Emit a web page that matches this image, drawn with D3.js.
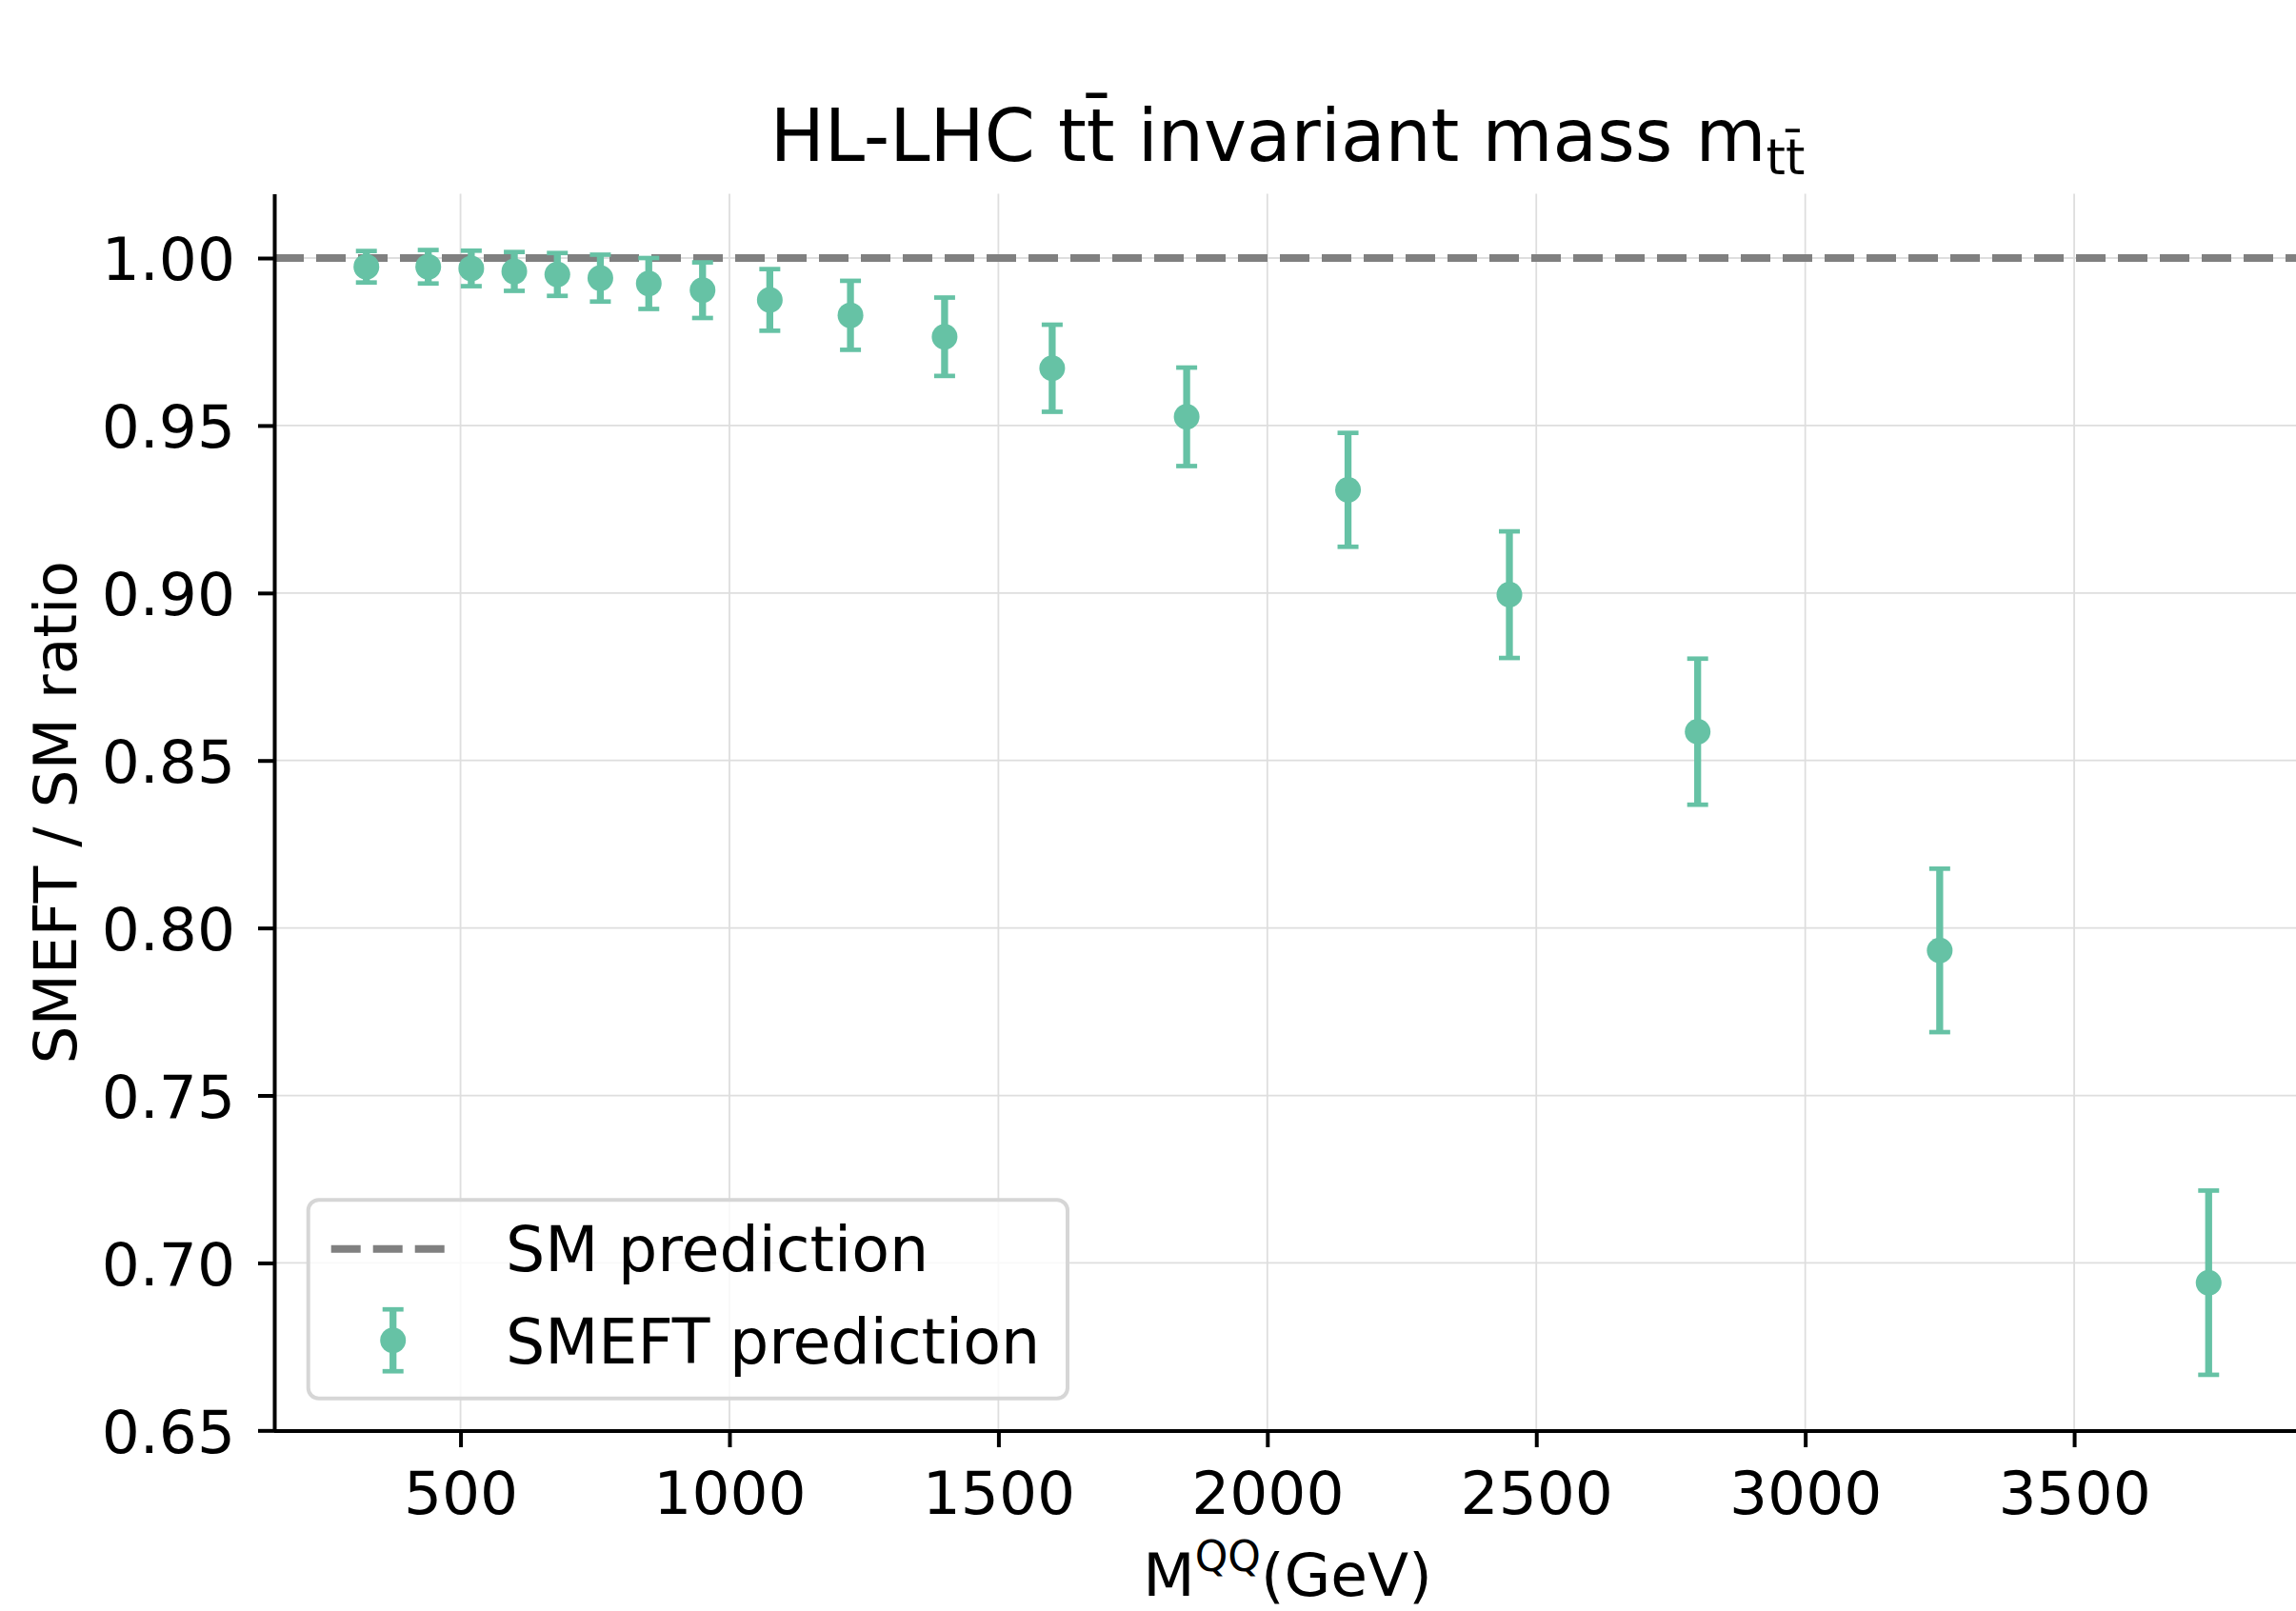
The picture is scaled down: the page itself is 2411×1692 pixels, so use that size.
<!DOCTYPE html>
<html>
<head>
<meta charset="utf-8">
<script src="https://cdn.jsdelivr.net/npm/d3@7"></script>
<style>
  html, body { margin: 0; padding: 0; background: #fff; }
  svg { display: block; font-family: "DejaVu Sans", sans-serif; }
</style>
</head>
<body>
<svg id="chart" width="2411" height="1692"></svg>
<script>
// Bin centres of the t tbar invariant mass (GeV)
const massBins = [325, 440, 520, 600, 680, 760, 850, 950, 1075, 1225, 1400, 1600, 1850, 2150, 2450, 2800, 3250, 3750];
// SMEFT / SM ratio in each bin
const ratio = [0.9974, 0.9974, 0.9969, 0.9960, 0.9951, 0.9940, 0.9924, 0.9904, 0.9875, 0.9829, 0.9765, 0.9671, 0.9526, 0.9308, 0.8995, 0.8586, 0.7933, 0.6941];
// Symmetric uncertainty on the ratio
const ratioErr = [0.0047, 0.0050, 0.0053, 0.0058, 0.0064, 0.0070, 0.0076, 0.0083, 0.0092, 0.0103, 0.0117, 0.0130, 0.0147, 0.0170, 0.0189, 0.0218, 0.0244, 0.0275];
// Axis ticks
const xTicks = [500, 1000, 1500, 2000, 2500, 3000, 3500];
const yTicks = [0.65, 0.70, 0.75, 0.80, 0.85, 0.90, 0.95, 1.00];
const smLevel = 1.0;
const legendLabels = ["SM prediction", "SMEFT prediction"];

const svg = d3.select("#chart");
const W = 2411, H = 1692;
svg.append("rect").attr("width", W).attr("height", H).attr("fill", "#fff");

const plot = { left: 288, right: 2416, top: 203.5, bottom: 1503 };
const teal = "#66c2a5";
const fontSize = 63;

// Autoscaled limits with a 5% margin around the data
const xMin = d3.min(massBins), xMax = d3.max(massBins);
const xPad = (xMax - xMin) * 0.05;
const yLo = d3.min(ratio.map((v, i) => v - ratioErr[i]));
const yHi = d3.max(ratio.map((v, i) => v + ratioErr[i]));
const yPad = (yHi - yLo) * 0.05;

const x = d3.scaleLinear().domain([xMin - xPad, xMax + xPad]).range([plot.left, plot.right]);
const y = d3.scaleLinear().domain([yLo - yPad, yHi + yPad]).range([plot.bottom, plot.top]);

// Grid
const grid = svg.append("g").attr("stroke", "#dedede").attr("stroke-width", 1.8);
grid.selectAll("line.gx").data(xTicks).join("line")
  .attr("x1", d => x(d)).attr("x2", d => x(d))
  .attr("y1", plot.top).attr("y2", plot.bottom);
grid.selectAll("line.gy").data(yTicks).join("line")
  .attr("x1", plot.left).attr("x2", plot.right)
  .attr("y1", d => y(d)).attr("y2", d => y(d));

// SM reference line
svg.append("line")
  .attr("x1", plot.left).attr("x2", plot.right)
  .attr("y1", y(smLevel)).attr("y2", y(smLevel))
  .attr("stroke", "#808080").attr("stroke-width", 8)
  .attr("stroke-dasharray", "31,13");

// SMEFT points with error bars
const pts = svg.append("g");
const capHalf = 11;
massBins.forEach((m, i) => {
  const cx = x(m);
  const yTop = y(ratio[i] + ratioErr[i]);
  const yBot = y(ratio[i] - ratioErr[i]);
  pts.append("line").attr("x1", cx).attr("x2", cx).attr("y1", yTop).attr("y2", yBot)
    .attr("stroke", teal).attr("stroke-width", 7.3);
  [yTop, yBot].forEach(cy => {
    pts.append("line").attr("x1", cx - capHalf).attr("x2", cx + capHalf).attr("y1", cy).attr("y2", cy)
      .attr("stroke", teal).attr("stroke-width", 4.7);
  });
  pts.append("circle").attr("cx", cx).attr("cy", y(ratio[i])).attr("r", 13.5).attr("fill", teal);
});

// Axes
const xAxis = svg.append("g").attr("transform", `translate(0,${plot.bottom})`)
  .call(d3.axisBottom(x).tickValues(xTicks).tickFormat(d3.format("d"))
    .tickSize(17).tickSizeOuter(0).tickPadding(25));
const yAxis = svg.append("g").attr("transform", `translate(${plot.left},0)`)
  .call(d3.axisLeft(y).tickValues(yTicks).tickFormat(d3.format(".2f"))
    .tickSize(17).tickSizeOuter(0).tickPadding(24));
[xAxis, yAxis].forEach(a => {
  a.select(".domain").attr("stroke", "#000").attr("stroke-width", 4);
  a.selectAll(".tick line").attr("stroke", "#000").attr("stroke-width", 4);
  a.selectAll(".tick text").attr("fill", "#000")
    .style("font-size", fontSize + "px").style("font-family", "DejaVu Sans");
});
xAxis.select(".domain").attr("d", `M${plot.left},0H${W}`);
yAxis.selectAll(".tick text").attr("dy", "0.36em");

// Title
const title = svg.append("text").attr("x", (plot.left + plot.right) / 2).attr("y", 169)
  .attr("text-anchor", "middle").style("font-size", "76px");
title.append("tspan").text("HL-LHC tt\u0304 invariant mass m");
title.append("tspan").attr("dy", 14).style("font-size", "52px").text("tt\u0304");

// Axis labels
const xl = svg.append("text").attr("x", (plot.left + plot.right) / 2).attr("y", 1676)
  .attr("text-anchor", "middle").style("font-size", fontSize + "px");
xl.append("tspan").text("M");
xl.append("tspan").attr("dy", -26).style("font-size", "44px").text("QQ");
xl.append("tspan").attr("dy", 26).text("(GeV)");

svg.append("text").attr("transform", `translate(80,${(plot.top + plot.bottom) / 2}) rotate(-90)`)
  .attr("text-anchor", "middle").style("font-size", fontSize + "px").text("SMEFT / SM ratio");

// Legend
const lg = svg.append("g");
lg.append("rect").attr("x", 323.7).attr("y", 1260.3).attr("width", 797.3).attr("height", 208.4)
  .attr("rx", 11).attr("fill", "#fff").attr("fill-opacity", 0.8)
  .attr("stroke", "#d6d6d6").attr("stroke-width", 4);
lg.append("line").attr("x1", 347.7).attr("x2", 477.8).attr("y1", 1311.7).attr("y2", 1311.7)
  .attr("stroke", "#808080").attr("stroke-width", 8).attr("stroke-dasharray", "31,13");
const hx = 412.7, hy = 1407.7, hh = 32.5;
lg.append("line").attr("x1", hx).attr("x2", hx).attr("y1", hy - hh).attr("y2", hy + hh)
  .attr("stroke", teal).attr("stroke-width", 7.3);
[hy - hh, hy + hh].forEach(cy => lg.append("line").attr("x1", hx - capHalf).attr("x2", hx + capHalf)
  .attr("y1", cy).attr("y2", cy).attr("stroke", teal).attr("stroke-width", 4.7));
lg.append("circle").attr("cx", hx).attr("cy", hy).attr("r", 13.5).attr("fill", teal);
lg.selectAll("text.lab").data(legendLabels).join("text")
  .attr("x", 531).attr("y", (d, i) => [1335, 1431.7][i])
  .style("font-size", "65px").text(d => d);
</script>
</body>
</html>
